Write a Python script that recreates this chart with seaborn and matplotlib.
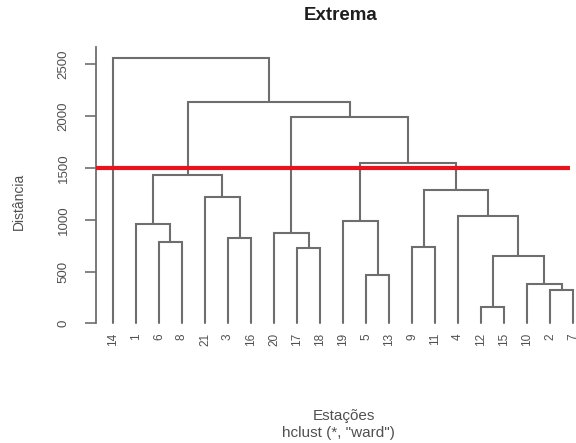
import matplotlib
matplotlib.use("Agg")
import matplotlib.pyplot as plt
import seaborn as sns

# Leaf order along the x axis (station numbers)
leaf_order = [14, 1, 6, 8, 21, 3, 16, 20, 17, 18, 19, 5, 13, 9, 11, 4, 12, 15, 10, 2, 7]

# hclust-style merge table: negative = single station, positive = earlier merge step (1-based)
merge_left = [-12, -2, -10, -5, 1, -17, -9, -6, -3, -20, -1, -19, -4, -21, 7, 11, 12, 10, 16, -14]
merge_right = [-15, -7, 2, -13, 3, -18, -11, -8, -16, 6, 8, 4, 5, 9, 13, 14, 15, 17, 18, 19]
merge_height = [161, 322, 377, 467, 651, 731, 741, 780, 822, 870, 960, 992, 1031, 1218,
                1289, 1434, 1547, 1988, 2133, 2556]

cut_height = 1500
y_ticks = [0, 500, 1000, 1500, 2000, 2500]

sns.set_theme(style="white")
plt.rcParams["font.family"] = ["Liberation Sans", "DejaVu Sans"]

W, H = 576, 443
fig = plt.figure(figsize=(W / 100, H / 100), dpi=100)
ax = fig.add_axes([96 / W, 1 - 323.3 / H, (576 - 96) / W, (323.3 - 47) / H])

line_col = "#6e6e6e"
text_col = "#505050"

leaf_x = {st: i for i, st in enumerate(leaf_order)}
node_x, node_h = {}, {}


def pos(ref):
    if ref < 0:
        return leaf_x[-ref], 0.0
    return node_x[ref], node_h[ref]


for k, (a, b, h) in enumerate(zip(merge_left, merge_right, merge_height), start=1):
    xa, ha = pos(a)
    xb, hb = pos(b)
    ax.plot([xa, xa, xb, xb], [ha, h, h, hb], color=line_col, lw=1.5,
            solid_joinstyle="miter", clip_on=False)
    node_x[k] = (xa + xb) / 2
    node_h[k] = h

ax.set_xlim(-0.739, 20.13)
ax.set_ylim(0, 2667)

# cut line
ax.hlines(cut_height, -0.739, 19.87, color="#e8141c", lw=3.0, zorder=5, clip_on=False)

ax.set_xticks(range(len(leaf_order)), [str(s) for s in leaf_order], rotation=90)
ax.tick_params(axis="x", length=0, pad=7, labelsize=8.5, labelcolor=text_col)
ax.set_yticks(y_ticks, [str(t) for t in y_ticks], rotation=90, va="center")
ax.tick_params(axis="y", direction="out", length=8, width=1.2, color=line_col,
               pad=11, labelsize=9.5, labelcolor=text_col, left=True)

sns.despine(ax=ax, top=True, right=True, bottom=True)
ax.spines["left"].set_color(line_col)
ax.spines["left"].set_linewidth(1.3)
ax.grid(False)

fig.text(341 / W, 1 - 15.5 / H, "Extrema", ha="center", va="center",
         fontsize=13.5, fontweight="bold", color="#1e1e1e")
fig.text(19 / W, 1 - 201 / H, "Distância", ha="center", va="center",
         rotation=90, fontsize=10, color=text_col)
fig.text(344 / W, 1 - 416 / H, "Estações", ha="center", va="center",
         fontsize=11, color=text_col)
fig.text(338 / W, 1 - 433 / H, 'hclust (*, "ward")', ha="center", va="center",
         fontsize=11, color=text_col)

fig.savefig("out.png", dpi=100, facecolor="white")
